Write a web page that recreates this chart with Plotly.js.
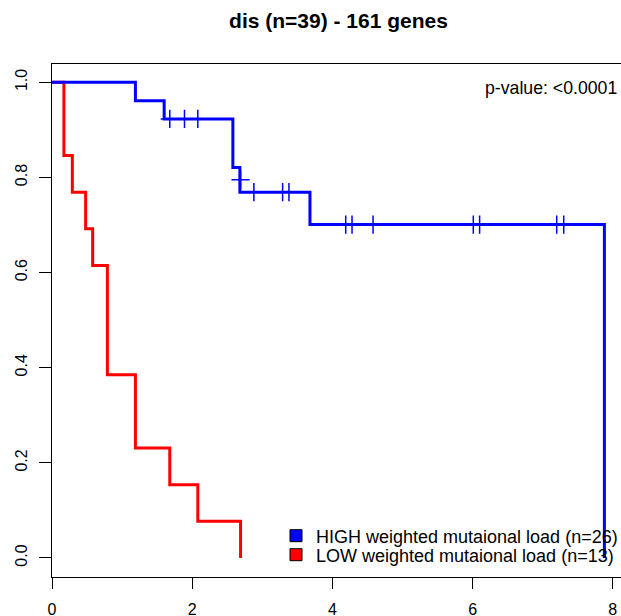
<!DOCTYPE html>
<html>
<head>
<meta charset="utf-8">
<script src="https://cdn.plot.ly/plotly-3.0.1.min.js"></script>
<style>html,body{margin:0;padding:0;background:#fff;}#chart{width:621px;height:616px;}</style>
</head>
<body>
<div id="chart"></div>
<script>
// Kaplan-Meier step curves (time in x, survival in y)
var highTime = [0, 1.19, 1.60, 2.58, 2.68, 3.68, 7.88];
var highSurv = [1.0, 0.961, 0.923, 0.821, 0.769, 0.701, 0.0];
var lowTime = [0, 0.17, 0.29, 0.48, 0.58, 0.79, 1.19, 1.68, 2.08, 2.69];
var lowSurv = [1.0, 0.846, 0.769, 0.692, 0.615, 0.385, 0.231, 0.154, 0.077, 0.0];
// censoring marks (HIGH group)
var highCensorTime = [1.68, 1.89, 2.08, 2.69, 2.88, 3.29, 3.38, 4.19, 4.28, 4.58, 6.01, 6.10, 7.20, 7.30];
var highCensorSurv = [0.923, 0.923, 0.923, 0.795, 0.769, 0.769, 0.769, 0.701, 0.701, 0.701, 0.701, 0.701, 0.701, 0.701];
var seriesNames = ["HIGH weighted mutaional load (n=26)", "LOW weighted mutaional load (n=13)"];
var xTicks = [0, 2, 4, 6, 8];
var yTicks = [0, 0.2, 0.4, 0.6, 0.8, 1.0];
var titleText = "dis (n=39) - 161 genes";
var pText = "p-value: <0.0001";

var FONT = "Liberation Sans, Arial, Helvetica, sans-serif";

var traces = [
  {x: lowTime, y: lowSurv, type: "scatter", mode: "lines", line: {shape: "hv", color: "#ff0000", width: 3}, showlegend: false, hoverinfo: "skip"},
  {x: highTime, y: highSurv, type: "scatter", mode: "lines", line: {shape: "hv", color: "#0000ff", width: 3}, showlegend: false, hoverinfo: "skip"},
  {x: highCensorTime, y: highCensorSurv, type: "scatter", mode: "markers", marker: {symbol: "cross-thin", size: 13, color: "#0000ff", line: {color: "#0000ff", width: 1.5}}, showlegend: false, hoverinfo: "skip"},
  {x: [null], y: [null], type: "scatter", mode: "markers", name: seriesNames[0], legend: "legend", marker: {symbol: "square", size: 12, color: "#0000ff", line: {color: "#000", width: 1}}},
  {x: [null], y: [null], type: "scatter", mode: "markers", name: seriesNames[1], legend: "legend2", marker: {symbol: "square", size: 12, color: "#ff0000", line: {color: "#000", width: 1}}}
];

function legendAt(yPix) {
  return {x: (276 - 52) / 569, xanchor: "left", y: (577 - yPix) / 513, yanchor: "middle", bgcolor: "rgba(0,0,0,0)", borderwidth: 0, font: {size: 18, family: FONT, color: "#000"}, itemclick: false};
}

var layout = {
  width: 621, height: 616,
  margin: {l: 52, r: 0, t: 64, b: 39, autoexpand: false},
  paper_bgcolor: "#fff", plot_bgcolor: "#fff",
  font: {family: FONT, color: "#000", size: 16},
  title: {text: "<b>" + titleText + "</b>", x: 338.5 / 621, xref: "container", xanchor: "center", y: 1 - 21 / 616, yref: "container", yanchor: "middle", font: {family: FONT, size: 21, color: "#000"}},
  xaxis: {range: [0, 569 / 70.1], automargin: false, tickvals: xTicks, ticktext: xTicks.map(String), showgrid: false, zeroline: false, showline: true, mirror: true, linecolor: "#000", linewidth: 1, ticks: "outside", ticklen: 11, tickwidth: 1, tickcolor: "#000", ticklabelstandoff: 7, tickfont: {size: 16}},
  yaxis: {range: [-0.04, 1.0385], automargin: false, tickvals: yTicks, tickformat: ".1f", tickangle: -90, showgrid: false, zeroline: false, showline: true, mirror: false, linecolor: "#000", linewidth: 1, ticks: "outside", ticklen: 12, tickwidth: 1, tickcolor: "#000", ticklabelstandoff: 6, tickfont: {size: 16}},
  legend: legendAt(536),
  legend2: legendAt(555),
  annotations: [
    {text: pText, xref: "paper", yref: "paper", x: (619 - 52) / 569, y: (577 - 88) / 513, xanchor: "right", yanchor: "middle", showarrow: false, font: {size: 17.7, family: FONT, color: "#000"}}
  ]
};

Plotly.newPlot("chart", traces, layout, {displayModeBar: false, staticPlot: true});
</script>
</body>
</html>
